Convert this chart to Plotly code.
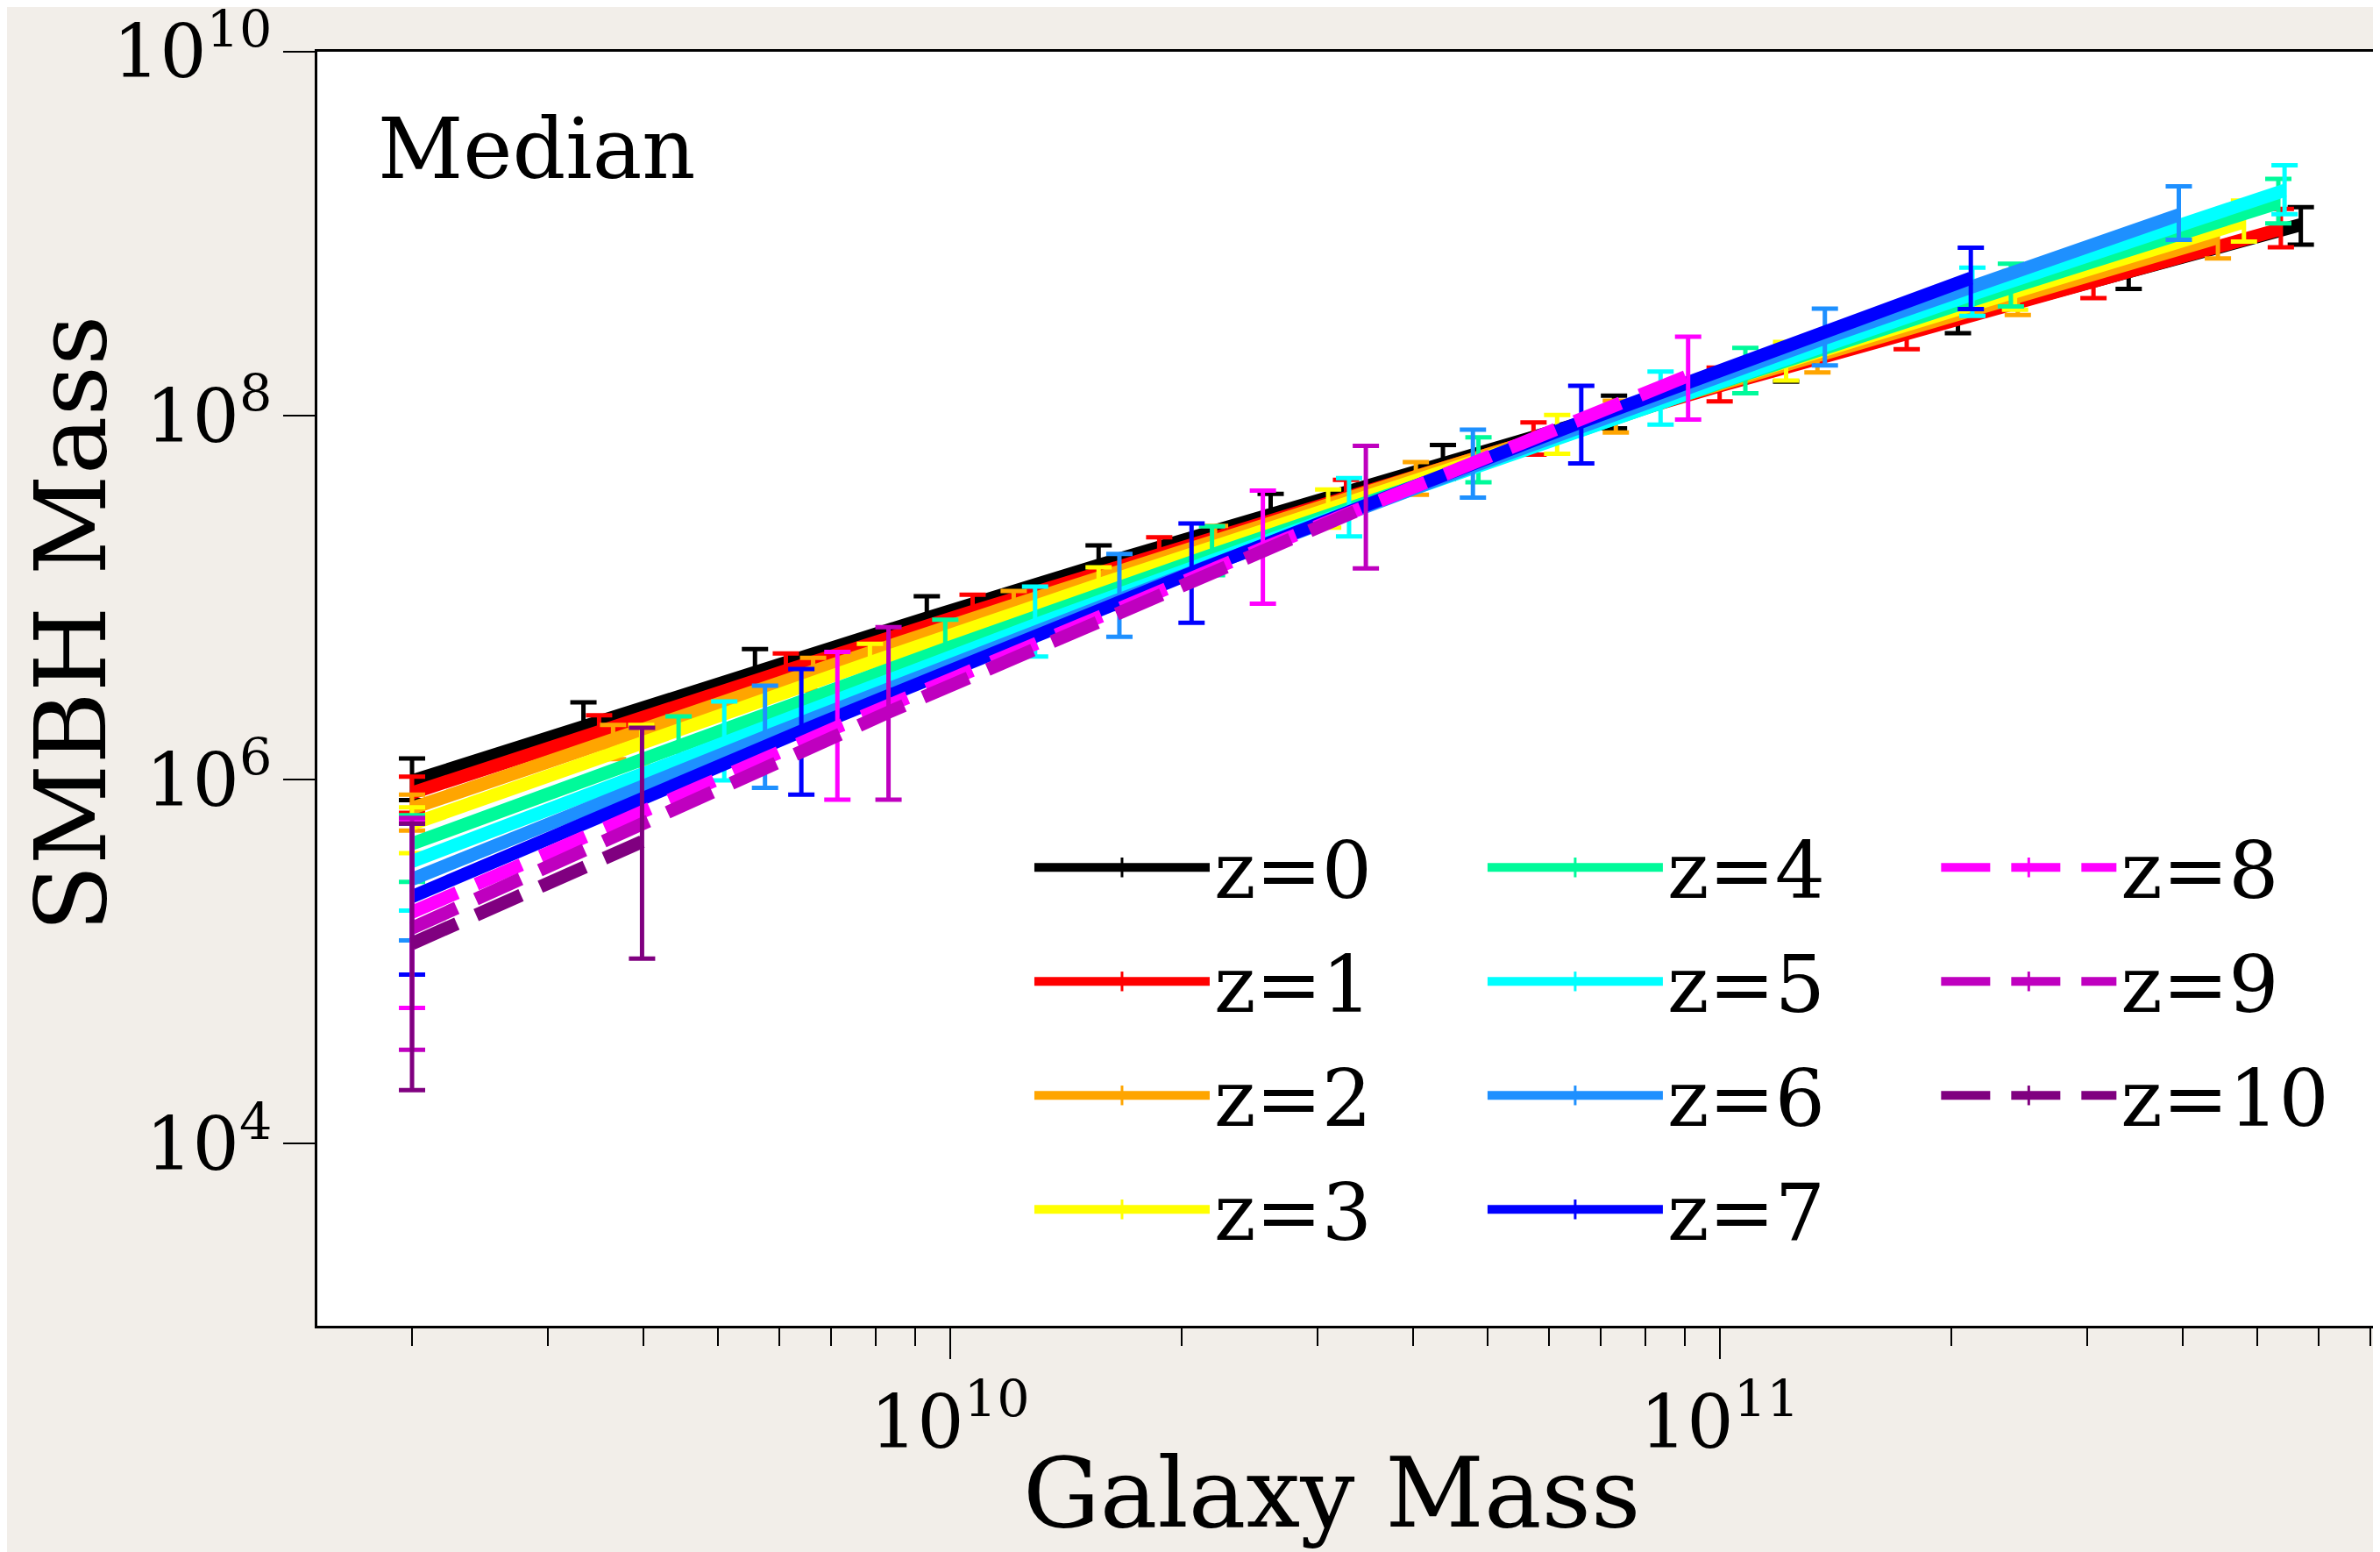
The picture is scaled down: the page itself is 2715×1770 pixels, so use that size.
import plotly.graph_objects as go

# ---------------- data ----------------
labels = ["z=0", "z=1", "z=2", "z=3", "z=4", "z=5", "z=6", "z=7", "z=8", "z=9", "z=10"]
colors = ["#000000", "#ff0000", "#ffa500", "#ffff00", "#00fa9a", "#00ffff",
          "#1e90ff", "#0000ff", "#ff00ff", "#bf00bf", "#800080"]

gal_z0 = [2.0e9, 3.34e9, 5.58e9, 9.33e9, 1.56e10, 2.61e10, 4.37e10, 7.29e10, 1.22e11, 2.04e11, 3.40e11, 5.69e11]
bh_z0 = [9.84e5, 1.98e6, 3.94e6, 7.74e6, 1.51e7, 2.89e7, 5.48e7, 1.03e8, 1.90e8, 3.48e8, 6.27e8, 1.12e9]
hi_z0 = [1.31e6, 2.66e6, 5.22e6, 1.02e7, 1.94e7, 3.72e7, 6.90e7, 1.29e8, 2.39e8, 4.38e8, 7.89e8, 1.40e9]
lo_z0 = [7.73e5, 1.57e6, 3.13e6, 6.22e6, 1.22e7, 2.35e7, 4.51e7, 8.53e7, 1.54e8, 2.84e8, 4.98e8, 8.71e8]

gal_z1 = [2.0e9, 3.50e9, 6.12e9, 1.07e10, 1.87e10, 3.27e10, 5.73e10, 1.00e11, 1.75e11, 3.06e11, 5.36e11]
bh_z1 = [8.47e5, 1.85e6, 3.97e6, 8.40e6, 1.75e7, 3.61e7, 7.31e7, 1.46e8, 2.86e8, 5.56e8, 1.06e9]
hi_z1 = [1.04e6, 2.26e6, 4.94e6, 1.04e7, 2.15e7, 4.44e7, 9.18e7, 1.84e8, 3.61e8, 7.00e8, 1.37e9]
lo_z1 = [6.59e5, 1.50e6, 3.27e6, 6.98e6, 1.46e7, 3.01e7, 6.11e7, 1.20e8, 2.32e8, 4.43e8, 8.43e8]

gal_z2 = [2.0e9, 3.65e9, 6.64e9, 1.21e10, 2.21e10, 4.03e10, 7.33e10, 1.34e11, 2.44e11, 4.44e11]
bh_z2 = [6.98e5, 1.68e6, 3.94e6, 9.12e6, 2.07e7, 4.62e7, 1.01e8, 2.17e8, 4.60e8, 9.51e8]
hi_z2 = [8.28e5, 2.00e6, 4.68e6, 1.09e7, 2.48e7, 5.57e7, 1.21e8, 2.64e8, 5.66e8, 1.17e9]
lo_z2 = [5.26e5, 1.30e6, 3.09e6, 7.24e6, 1.64e7, 3.68e7, 8.09e7, 1.73e8, 3.58e8, 7.31e8]

gal_z3 = [2.0e9, 3.97e9, 7.87e9, 1.56e10, 3.10e10, 6.15e10, 1.22e11, 2.42e11, 4.80e11]
bh_z3 = [5.71e5, 1.61e6, 4.40e6, 1.18e7, 3.09e7, 7.93e7, 1.98e8, 4.84e8, 1.16e9]
hi_z3 = [7.06e5, 2.00e6, 5.58e6, 1.47e7, 3.93e7, 1.01e8, 2.54e8, 6.24e8, 1.52e9]
lo_z3 = [3.95e5, 1.19e6, 3.37e6, 9.16e6, 2.43e7, 6.18e7, 1.56e8, 3.82e8, 9.06e8]

gal_z4 = [2.0e9, 4.44e9, 9.86e9, 2.19e10, 4.86e10, 1.08e11, 2.39e11, 5.32e11]
bh_z4 = [4.45e5, 1.55e6, 5.24e6, 1.72e7, 5.47e7, 1.69e8, 5.06e8, 1.48e9]
hi_z4 = [6.38e5, 2.23e6, 7.57e6, 2.47e7, 7.62e7, 2.36e8, 6.84e8, 2.00e9]
lo_z4 = [2.75e5, 1.07e6, 3.88e6, 1.33e7, 4.31e7, 1.33e8, 3.99e8, 1.14e9]

gal_z5 = [2.0e9, 5.09e9, 1.29e10, 3.30e10, 8.38e10, 2.13e11, 5.42e11]
bh_z5 = [3.56e5, 1.62e6, 7.10e6, 2.99e7, 1.20e8, 4.65e8, 1.73e9]
hi_z5 = [5.89e5, 2.69e6, 1.15e7, 4.55e7, 1.75e8, 6.52e8, 2.38e9]
lo_z5 = [1.91e5, 9.91e5, 4.76e6, 2.17e7, 8.95e7, 3.54e8, 1.28e9]

gal_z6 = [2.0e9, 5.75e9, 1.66e10, 4.78e10, 1.37e11, 3.95e11]
bh_z6 = [2.84e5, 1.72e6, 9.79e6, 5.27e7, 2.67e8, 1.27e9]
hi_z6 = [5.94e5, 3.29e6, 1.74e7, 8.38e7, 3.88e8, 1.82e9]
lo_z6 = [1.31e5, 9.02e5, 6.11e6, 3.55e7, 1.89e8, 9.25e8]

gal_z7 = [2.0e9, 6.41e9, 2.06e10, 6.61e10, 2.12e11]
bh_z7 = [2.28e5, 1.85e6, 1.37e7, 9.25e7, 5.70e8]
hi_z7 = [5.75e5, 4.06e6, 2.56e7, 1.46e8, 8.39e8]
lo_z7 = [8.51e4, 8.28e5, 7.29e6, 5.47e7, 3.85e8]

gal_z8 = [2.0e9, 7.14e9, 2.55e10, 9.10e10]
bh_z8 = [1.87e5, 1.95e6, 1.87e7, 1.66e8]
hi_z8 = [5.89e5, 5.04e6, 3.88e7, 2.72e8]
lo_z8 = [5.58e4, 7.78e5, 9.27e6, 9.53e7]

gal_z9 = [2.0e9, 8.32e9, 3.47e10]
bh_z9 = [1.53e5, 2.35e6, 3.16e7]
hi_z9 = [6.17e5, 6.90e6, 6.84e7]
lo_z9 = [3.28e4, 7.78e5, 1.45e7]

gal_z10 = [2.0e9, 3.98e9]
bh_z10 = [1.26e5, 4.57e5]
hi_z10 = [5.75e5, 1.93e6]
lo_z10 = [1.97e4, 1.04e5]

x_tick_vals = [1e10, 1e11]
x_tick_text = ["10<sup>10</sup>", "10<sup>11</sup>"]
x_minor_vals = [2e9, 3e9, 4e9, 5e9, 6e9, 7e9, 8e9, 9e9,
                2e10, 3e10, 4e10, 5e10, 6e10, 7e10, 8e10, 9e10,
                2e11, 3e11, 4e11, 5e11, 6e11, 7e11]
y_tick_vals = [1e4, 1e6, 1e8, 1e10]
y_tick_text = ["10<sup>4</sup>", "10<sup>6</sup>", "10<sup>8</sup>", "10<sup>10</sup>"]

# ---------------- figure ----------------
gal_all = [gal_z0, gal_z1, gal_z2, gal_z3, gal_z4, gal_z5, gal_z6, gal_z7, gal_z8, gal_z9, gal_z10]
bh_all = [bh_z0, bh_z1, bh_z2, bh_z3, bh_z4, bh_z5, bh_z6, bh_z7, bh_z8, bh_z9, bh_z10]
hi_all = [hi_z0, hi_z1, hi_z2, hi_z3, hi_z4, hi_z5, hi_z6, hi_z7, hi_z8, hi_z9, hi_z10]
lo_all = [lo_z0, lo_z1, lo_z2, lo_z3, lo_z4, lo_z5, lo_z6, lo_z7, lo_z8, lo_z9, lo_z10]
legend_ids = ["legend"] * 4 + ["legend2"] * 4 + ["legend3"] * 3

FONT = "DejaVu Serif"
fig = go.Figure()
for i, lab in enumerate(labels):
    col = colors[i]
    dash = "56px,24px" if i >= 8 else "solid"
    up = [h - b for h, b in zip(hi_all[i], bh_all[i])]
    dn = [b - l for b, l in zip(bh_all[i], lo_all[i])]
    fig.add_trace(go.Scatter(
        x=gal_all[i], y=bh_all[i], name=lab, mode="lines+markers",
        line=dict(color=col, width=15, dash=dash),
        marker=dict(symbol="line-ns", size=16, color=col, line=dict(color=col, width=3)),
        error_y=dict(type="data", symmetric=False, array=up, arrayminus=dn,
                     color=col, thickness=5, width=15),
        legend=legend_ids[i], legendgroup=lab,
    ))

axis_common = dict(
    showline=True, linecolor="black", linewidth=2.5,
    ticks="outside", tickwidth=2, tickcolor="black",
    tickfont=dict(family=FONT, size=84, color="black"),
    showgrid=False, zeroline=False, tickmode="array",
    ticklabeloverflow="allow",
)
fig.update_xaxes(type="log", range=[9.178, 11.858], ticklen=35, mirror=True,
                 tickvals=x_tick_vals, ticktext=x_tick_text, ticklabelstandoff=0,
                 minor=dict(tickmode="array", tickvals=x_minor_vals, ticks="outside",
                            ticklen=20, tickwidth=1.5, tickcolor="black", showgrid=False),
                 **axis_common)
fig.update_yaxes(type="log", range=[3, 10], ticklen=36, mirror=False,
                 tickvals=y_tick_vals, ticktext=y_tick_text, ticklabelstandoff=-4,
                 **axis_common)

leg_common = dict(xanchor="left", yanchor="top", orientation="v",
                  font=dict(family=FONT, size=90, color="black"),
                  bgcolor="rgba(0,0,0,0)", borderwidth=0, tracegroupgap=10,
                  itemwidth=200)
fig.update_layout(
    width=2707, height=1762,
    margin=dict(l=354, r=0, t=51, b=258, autoexpand=False),
    paper_bgcolor="#f2eee9", plot_bgcolor="white",
    font=dict(family=FONT, color="black"),
    legend=dict(x=0.3455, y=0.4045, **leg_common),
    legend2=dict(x=0.5652, y=0.4045, **leg_common),
    legend3=dict(x=0.7851, y=0.4045, **leg_common),
    annotations=[
        dict(text="Median", xref="paper", yref="paper", x=0.0284, y=0.9236,
             xanchor="left", yanchor="middle", showarrow=False,
             font=dict(family=FONT, size=95, color="black")),
        dict(text="Galaxy Mass", xref="paper", yref="paper", x=0.4917, y=-0.1314,
             xanchor="center", yanchor="middle", showarrow=False,
             font=dict(family=FONT, size=110, color="black")),
        dict(text="SMBH Mass", xref="paper", yref="paper", x=-0.1194, y=0.5506,
             xanchor="center", yanchor="middle", showarrow=False, textangle=-90,
             font=dict(family=FONT, size=112, color="black")),
    ],
)

fig.write_html("out.html")
